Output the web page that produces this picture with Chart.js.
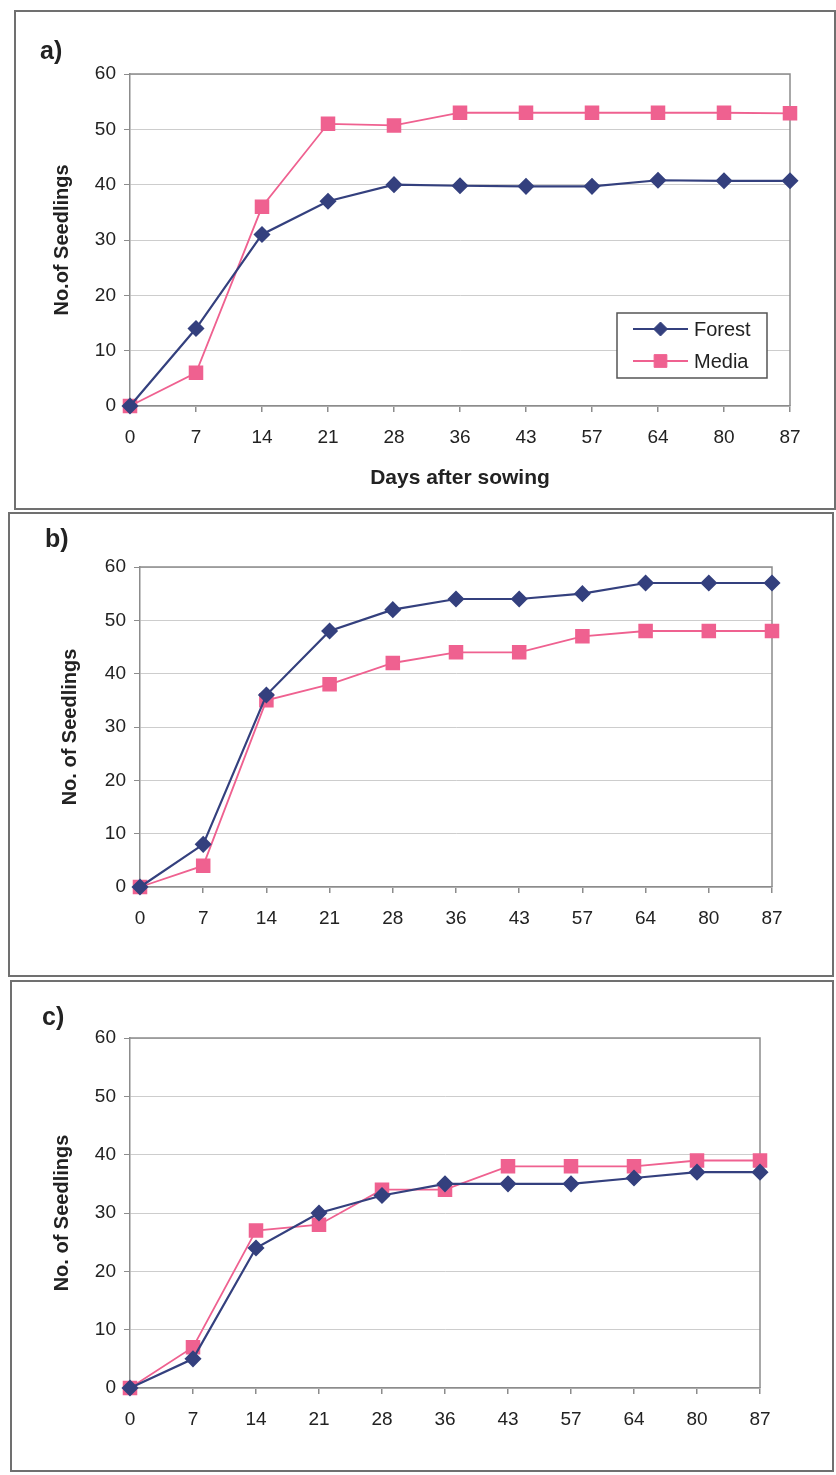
<!DOCTYPE html>
<html>
<head>
<meta charset="utf-8">
<script src="https://cdn.jsdelivr.net/npm/chart.js@4.4.1/dist/chart.umd.min.js"></script>
<style>
  body { margin: 0; background: #fff; font-family: "Liberation Sans", Arial, sans-serif; }
  .panel { position: absolute; border: 2px solid #707070; }
  .panel canvas { position: absolute; left: 0; top: 0; }
  .tag { position: absolute; font-weight: bold; font-size: 25px; color: #222; }
</style>
</head>
<body>
<div class="panel" style="left:14px;top:10px;width:818px;height:496px"><canvas id="chartA" width="818" height="496"></canvas></div>
<div class="panel" style="left:8px;top:512px;width:822px;height:461px"><canvas id="chartB" width="822" height="461"></canvas></div>
<div class="panel" style="left:10px;top:980px;width:820px;height:488px"><canvas id="chartC" width="820" height="488"></canvas></div>
<div class="tag" style="left:40px;top:36px">a)</div>
<div class="tag" style="left:45px;top:524px">b)</div>
<div class="tag" style="left:42px;top:1002px">c)</div>

<script>
// days after sowing (category axis)
const days = ['0', '7', '14', '21', '28', '36', '43', '57', '64', '80', '87']

// a)
const forestA = [0, 14, 31, 37, 40, 39.8, 39.7, 39.7, 40.8, 40.7, 40.7]
const mediaA = [0, 6, 36, 51, 50.7, 53, 53, 53, 53, 53, 52.9]
// b)
const forestB = [0, 8, 36, 48, 52, 54, 54, 55, 57, 57, 57]
const mediaB = [0, 4, 35, 38, 42, 44, 44, 47, 48, 48, 48]
// c)
const forestC = [0, 5, 24, 30, 33, 35, 35, 35, 36, 37, 37]
const mediaC = [0, 7, 27, 28, 34, 34, 38, 38, 38, 39, 39]

const seriesNames = ['Forest', 'Media']
const forestColor = '#34407e'
const mediaColor = '#ef6190'
const axisColor = '#8c8c8c'
const textColor = '#222'

Chart.defaults.font.family = '"Liberation Sans", Arial, sans-serif'

// top + right edge of the plot area, like the Excel plot border
const plotFrame = {
    id: 'plotFrame',
    beforeDatasetsDraw(chart) {
        const {ctx, chartArea: a} = chart
        ctx.save()
        ctx.strokeStyle = axisColor
        ctx.lineWidth = 1.5
        ctx.beginPath()
        ctx.moveTo(a.left, a.top)
        ctx.lineTo(a.right, a.top)
        ctx.lineTo(a.right, a.bottom)
        ctx.stroke()
        ctx.restore()
    }
}

// boxed legend sitting inside the plot (only panel a)
const boxLegend = {
    id: 'boxLegend',
    afterDraw(chart, args, opts) {
        if (!opts.show) return
        const ctx = chart.ctx
        ctx.save()
        ctx.fillStyle = '#fff'
        ctx.strokeStyle = '#555'
        ctx.lineWidth = 1.5
        ctx.fillRect(opts.x, opts.y, opts.w, opts.h)
        ctx.strokeRect(opts.x, opts.y, opts.w, opts.h)
        chart.data.datasets.forEach((ds, i) => {
            const y = opts.y + opts.rowTop + i * opts.rowGap
            const x0 = opts.x + 16
            const x1 = x0 + 55
            ctx.strokeStyle = ds.borderColor
            ctx.lineWidth = ds.borderWidth
            ctx.beginPath()
            ctx.moveTo(x0, y)
            ctx.lineTo(x1, y)
            ctx.stroke()
            ctx.fillStyle = ds.pointBackgroundColor
            ctx.strokeStyle = ds.pointBorderColor
            ctx.lineWidth = 1
            Chart.helpers.drawPoint(ctx, {pointStyle: ds.pointStyle, radius: ds.pointRadius, rotation: 0, borderWidth: 1}, (x0 + x1) / 2, y)
            ctx.fillStyle = textColor
            ctx.font = '20px "Liberation Sans", Arial, sans-serif'
            ctx.textBaseline = 'middle'
            ctx.fillText(ds.label, x1 + 6, y + 1)
        })
        ctx.restore()
    }
}

const makeChart = (canvasId, forest, media, yTitle, box) => {
    const ctx = document.getElementById(canvasId).getContext('2d')
    return new Chart(ctx, {
        type: 'line',
        data: {
            labels: days,
            datasets: [{
                label: seriesNames[0],
                data: forest,
                borderColor: forestColor,
                backgroundColor: forestColor,
                pointBackgroundColor: forestColor,
                pointBorderColor: forestColor,
                borderWidth: 2.2,
                pointStyle: 'rectRot',
                pointRadius: 7,
                tension: 0,
                clip: false
            }, {
                label: seriesNames[1],
                data: media,
                borderColor: mediaColor,
                backgroundColor: mediaColor,
                pointBackgroundColor: mediaColor,
                pointBorderColor: mediaColor,
                borderWidth: 1.8,
                pointStyle: 'rect',
                pointRadius: 9,
                tension: 0,
                clip: false
            }]
        },
        options: {
            responsive: false,
            animation: false,
            layout: { padding: box.padding },
            plugins: {
                legend: { display: false },
                tooltip: { enabled: false },
                boxLegend: box.legend || { show: false }
            },
            scales: {
                x: {
                    type: 'category',
                    offset: false,
                    grid: { drawOnChartArea: false, tickLength: 6, tickColor: axisColor, lineWidth: 1.5 },
                    border: { color: axisColor, width: 1.5 },
                    ticks: { autoSkip: false, maxRotation: 0, padding: 14, color: textColor, font: { size: 19 } },
                    title: { display: !!box.xTitle, text: box.xTitle || '', color: textColor, font: { size: 21, weight: 'bold' } },
                    afterFit: (scale) => { scale.height = box.xHeight }
                },
                y: {
                    min: 0,
                    max: 60,
                    grid: { color: '#cdcdcd', lineWidth: 1, tickLength: 6, tickColor: axisColor },
                    border: { color: axisColor, width: 1.5 },
                    ticks: { stepSize: 10, padding: 8, color: textColor, font: { size: 19 } },
                    title: { display: true, text: yTitle, color: textColor, font: { size: 20, weight: 'bold' } },
                    afterFit: (scale) => { scale.width = box.yWidth }
                }
            }
        },
        plugins: [plotFrame, boxLegend]
    })
}

makeChart('chartA', forestA, mediaA, 'No.of Seedlings', {
    padding: { left: 30, right: 44, top: 62, bottom: 13 },
    yWidth: 84, xHeight: 89, xTitle: 'Days after sowing',
    legend: { show: true, x: 601, y: 301, w: 150, h: 65, rowTop: 16, rowGap: 32 }
})
makeChart('chartB', forestB, mediaB, 'No. of Seedlings', {
    padding: { left: 44, right: 60, top: 53, bottom: 28 },
    yWidth: 86, xHeight: 60
})
makeChart('chartC', forestC, mediaC, 'No. of Seedlings', {
    padding: { left: 34, right: 72, top: 56, bottom: 27 },
    yWidth: 84, xHeight: 55
})
</script>
</body>
</html>
